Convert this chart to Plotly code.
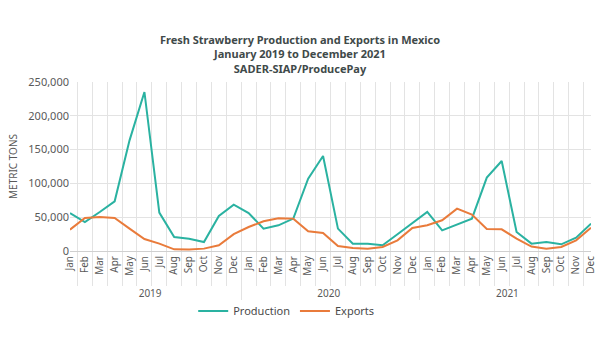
import plotly.graph_objects as go

years = ["2019", "2020", "2021"]
months = ["Jan", "Feb", "Mar", "Apr", "May", "Jun", "Jul", "Aug", "Sep", "Oct", "Nov", "Dec"]

production = [
    56200, 42900, 57700, 73500, 163700, 235200, 56800, 20700, 18000, 13300, 51800, 68600,
    56200, 33100, 38000, 47900, 107100, 140500, 33100, 10900, 10700, 8500, 24700, 41400,
    57700, 30600, 39500, 47900, 108600, 133100, 28100, 10900, 13300, 9900, 19800, 40500,
]
exports = [
    31600, 48800, 50300, 48800, 33100, 17800, 10900, 2500, 2200, 3500, 8400, 25000,
    35500, 43900, 48400, 47900, 29100, 26600, 7400, 4400, 3500, 5900, 15800, 34000,
    38000, 45400, 62700, 53800, 32500, 32100, 18300, 6500, 3500, 5900, 15800, 34500,
]

x_outer = [y for y in years for _ in months]
x_inner = [m for _ in years for m in months]

fig = go.Figure()
fig.add_trace(go.Scatter(x=[x_outer, x_inner], y=production, name="Production",
                         mode="lines", line=dict(color="#2ab2a1", width=2)))
fig.add_trace(go.Scatter(x=[x_outer, x_inner], y=exports, name="Exports",
                         mode="lines", line=dict(color="#e97b3b", width=2)))

font_family = "Noto Sans"
fig.update_layout(
    width=600, height=350,
    margin=dict(l=70, r=9, t=82, b=99, autoexpand=False),
    paper_bgcolor="white", plot_bgcolor="white",
    font=dict(family=font_family, size=11, color="#595959"),
    title=dict(
        text="<b>Fresh Strawberry Production and Exports in Mexico<br>January 2019 to December 2021<br>SADER-SIAP/ProducePay</b>",
        x=0.5, xanchor="center", xref="container",
        y=1 - 44 / 350, yanchor="top", yref="container",
        font=dict(family=font_family, size=11, color="#3f4a4a"),
    ),
    legend=dict(orientation="h", x=0.477, xanchor="center", xref="container",
                y=1 - 311 / 350, yanchor="middle", yref="container",
                font=dict(size=11, color="#4a4a4a"), itemwidth=30,
                tracegroupgap=0, bgcolor="rgba(0,0,0,0)"),
    showlegend=True,
)
fig.update_yaxes(
    range=[0, 250000], dtick=50000, tickformat=",d",
    showgrid=True, gridcolor="#e3e3e3", gridwidth=1,
    zeroline=True, zerolinecolor="#d0d0d0",
    title=dict(text="METRIC TONS", font=dict(size=10, color="#595959"), standoff=8),
    tickfont=dict(size=11, color="#595959"),
    ticks="", fixedrange=True, automargin=False,
)
fig.update_xaxes(
    type="multicategory", tickson="boundaries", tickangle=-90,
    showgrid=True, gridcolor="#e3e3e3", gridwidth=1,
    ticks="outside", ticklen=34, tickcolor="#e3e3e3",
    showdividers=True, dividercolor="#e3e3e3", dividerwidth=1,
    tickfont=dict(size=10, color="#595959"),
    showline=True, linecolor="#d0d0d0", automargin=False,
)

fig.write_html("out.html")
